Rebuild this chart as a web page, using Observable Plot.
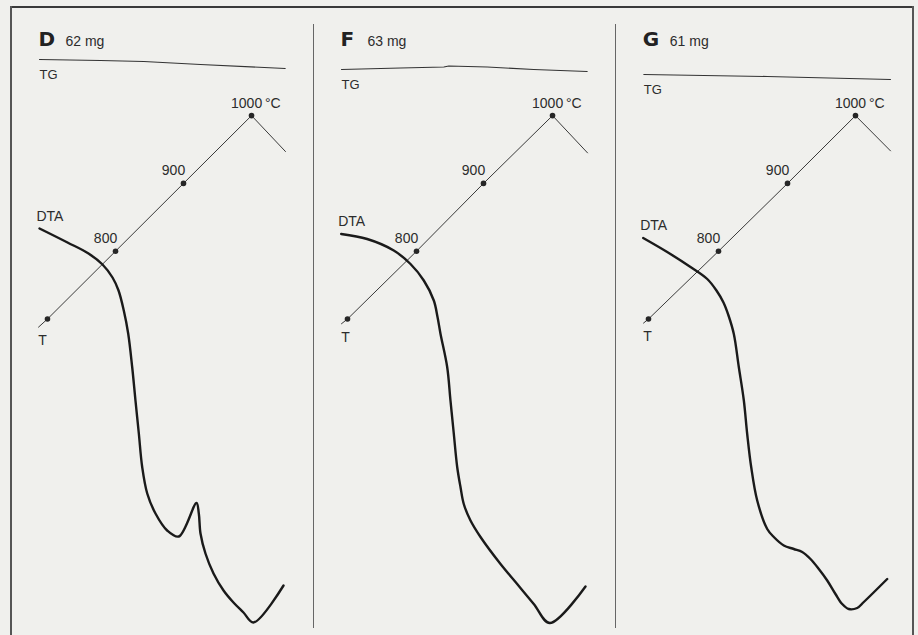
<!DOCTYPE html>
<html>
<head>
<meta charset="utf-8">
<script src="https://cdn.jsdelivr.net/npm/d3@7"></script>
<script src="https://cdn.jsdelivr.net/npm/@observablehq/plot@0.6"></script>
<style>
  html, body { margin: 0; padding: 0; background: #f0f0ed; }
  #wrap { position: relative; width: 918px; height: 635px; overflow: hidden; background: #f0f0ed; }
  .bar { position: absolute; background: #3a3a3a; }
  #chart { position: absolute; left: 0; top: 0; }
  g[aria-label="temp-labels"] text, g[aria-label="dta-label"] text { letter-spacing: 1.1px; }
  g[aria-label="mass-label"] text { letter-spacing: 0.4px; }
</style>
</head>
<body>
<div id="wrap">
  <div class="bar" style="left:10px; top:6px; width:904px; height:2px;"></div>
  <div class="bar" style="left:10px; top:6px; width:2px; height:629px; background:#555;"></div>
  <div class="bar" style="left:912px; top:6px; width:2px; height:629px; background:#555;"></div>
  <div class="bar" style="left:313px; top:24px; width:1px; height:604px; background:#666;"></div>
  <div class="bar" style="left:615px; top:24px; width:1px; height:604px; background:#666;"></div>
  <div id="chart"></div>
</div>
<script>
// ---- Data (time in min, recorder deflection in chart divisions) ----
const panels = ["D", "F", "G"];
const masses = [62, 63, 61]; // mg
const markedTemps = [700, 800, 900, 1000];
const labelledTemps = [800, 900, 1000];

// Temperature trace T (time, °C)
const tTimeD = [3.86, 5.14, 14.86, 24.57, 34.29, 39.14];
const tTempD = [688, 700, 800, 900, 1000, 947];
const tTimeF = [4.14, 5.0, 14.86, 24.43, 34.29, 39.29];
const tTempF = [693, 700, 800, 900, 1000, 945];
const tTimeG = [4.29, 5.0, 15.0, 24.86, 34.57, 39.57];
const tTempG = [694, 700, 800, 900, 1000, 948];

// TG trace (time, deflection)
const tgTimeD = [4.0, 12.7, 18.9, 27.0, 39.1];
const tgValD  = [115.2, 115.0, 114.8, 114.2, 113.4];
const tgTimeF = [4.14, 12.57, 18.76, 19.47, 24.96, 31.6, 39.24];
const tgValF  = [113.2, 113.5, 113.7, 113.9, 113.7, 113.2, 112.8];
const tgTimeG = [4.33, 21.95, 39.57];
const tgValG  = [112.2, 111.8, 111.2];

// DTA trace (time, deflection)
const dtaTimeD = [4.0, 8.0, 11.0, 13.0, 14.43, 15.29, 16.04, 16.67, 17.24, 17.71, 18.19, 18.67, 19.39, 20.57, 22.24, 23.9, 26.43, 26.76, 27.0, 27.71, 28.86, 30.29, 31.71, 33.14, 34.57, 38.86];
const dtaValD  = [81.4, 78.6, 76.4, 74.2, 71.6, 69.0, 65.0, 60.4, 53.7, 47.0, 40.4, 33.7, 28.4, 24.4, 21.0, 19.8, 26.5, 24.4, 20.4, 16.4, 12.4, 9.0, 6.6, 4.6, 2.6, 10.0];
const dtaTimeF = [4.1, 7.81, 11.61, 14.0, 15.9, 17.33, 17.86, 18.29, 19.24, 19.71, 20.19, 20.67, 21.14, 21.61, 22.57, 24.0, 26.86, 29.24, 31.61, 33.9, 39.0];
const dtaValF  = [80.3, 79.3, 77.0, 74.3, 71.0, 67.0, 63.7, 60.3, 53.7, 47.0, 40.3, 33.7, 29.7, 26.3, 23.0, 19.7, 14.3, 10.3, 6.3, 2.5, 9.8];
const dtaTimeG = [4.24, 7.67, 11.0, 13.39, 14.71, 15.71, 16.43, 17.19, 17.9, 18.62, 19.1, 19.67, 20.53, 21.96, 22.9, 24.33, 25.76, 26.96, 28.14, 29.33, 30.53, 31.71, 32.67, 33.61, 34.81, 35.76, 39.1];
const dtaValG  = [79.5, 76.7, 73.7, 71.3, 69.0, 66.6, 64.0, 60.3, 53.7, 47.0, 40.3, 33.7, 27.0, 21.3, 19.7, 18.0, 17.3, 16.7, 15.3, 13.3, 11.0, 8.3, 6.3, 5.3, 5.5, 6.7, 11.3];

// Temperature pen: 700 °C at 63.3 divisions, 7.375 °C per division
const tempToDiv = T => 63.3 + (T - 700) / 7.375;

// ---- Tables built from the arrays ----
const rows = (panel, xs, ys, key) => xs.map((x, i) => ({panel, time: x, [key]: ys[i]}));
const tRows = [
  ...rows("D", tTimeD, tTempD, "temp"),
  ...rows("F", tTimeF, tTempF, "temp"),
  ...rows("G", tTimeG, tTempG, "temp")
];
const tgRows = [
  ...rows("D", tgTimeD, tgValD, "v"),
  ...rows("F", tgTimeF, tgValF, "v"),
  ...rows("G", tgTimeG, tgValG, "v")
];
const dtaRows = [
  ...rows("D", dtaTimeD, dtaValD, "v"),
  ...rows("F", dtaTimeF, dtaValF, "v"),
  ...rows("G", dtaTimeG, dtaValG, "v")
];
const firstOf = data => panels.map(p => data.find(d => d.panel === p));
const titles = panels.map((p, i) => ({panel: p, letter: p, mass: masses[i], time: tgRows.find(d => d.panel === p).time}));

const ink = "#2c2c2c";
const font = "Liberation Sans, Arial, Helvetica, sans-serif";

const chart = Plot.plot({
  width: 918,
  height: 635,
  marginLeft: 11,
  marginRight: 4,
  marginTop: 0,
  marginBottom: 0,
  fx: {domain: panels, padding: 0, axis: null},
  x: {domain: [0, 43], axis: null},
  y: {domain: [0, 127], axis: null},
  style: {background: "transparent", fontFamily: font, color: ink},
  marks: [
    // TG
    Plot.line(tgRows, {fx: "panel", x: "time", y: "v", stroke: "#333", strokeWidth: 1.1}),
    Plot.text(firstOf(tgRows), {fx: "panel", x: "time", y: "v", text: () => "TG", textAnchor: "start",
      lineAnchor: "bottom", dy: 19, fontSize: 13, fill: ink}),
    // Temperature
    Plot.line(tRows, {fx: "panel", x: "time", y: d => tempToDiv(d.temp), stroke: "#3a3a3a", strokeWidth: 1}),
    Plot.dot(tRows.filter(d => markedTemps.includes(d.temp)), {fx: "panel", x: "time", y: d => tempToDiv(d.temp),
      r: 2.8, fill: "#262626"}),
    Plot.text(tRows.filter(d => labelledTemps.includes(d.temp) && d.temp < 1000), {fx: "panel", x: "time",
      y: d => tempToDiv(d.temp), text: d => String(d.temp), textAnchor: "middle", lineAnchor: "bottom",
      dx: -10, dy: -8, fontSize: 14, fill: ink, ariaLabel: "temp-labels"}),
    Plot.text(tRows.filter(d => d.temp === 1000), {fx: "panel", x: "time", y: d => tempToDiv(d.temp),
      text: d => d.temp + "\u2009°C", textAnchor: "start", lineAnchor: "bottom",
      dx: -20.5, dy: -8, fontSize: 14, fill: ink, ariaLabel: "temp-labels"}),
    Plot.text(firstOf(tRows), {fx: "panel", x: "time", y: d => tempToDiv(d.temp), text: () => "T",
      textAnchor: "middle", lineAnchor: "bottom", dx: 4, dy: 18, fontSize: 14, fill: ink}),
    // DTA
    Plot.line(dtaRows, {fx: "panel", x: "time", y: "v", stroke: "#1a1a1a", strokeWidth: 2.4,
      curve: "catmull-rom", strokeLinejoin: "round"}),
    Plot.text(firstOf(dtaRows), {fx: "panel", x: "time", y: "v", text: () => "DTA", textAnchor: "start",
      lineAnchor: "bottom", dx: -3, dy: -8, fontSize: 14, fill: ink, ariaLabel: "dta-label"}),
    // Panel titles
    Plot.text(titles, {fx: "panel", x: "time", frameAnchor: "top", text: "letter", textAnchor: "start",
      lineAnchor: "bottom", dx: -1, dy: 45, fontSize: 20, fontWeight: "bold",
      fontFamily: "DejaVu Sans, sans-serif", fill: "#222"}),
    Plot.text(titles, {fx: "panel", x: "time", frameAnchor: "top", text: d => d.mass + " mg",
      textAnchor: "start", lineAnchor: "bottom", dx: 26, dy: 45, fontSize: 14, fill: ink, ariaLabel: "mass-label"})
  ]
});
document.getElementById("chart").appendChild(chart);
</script>
</body>
</html>
